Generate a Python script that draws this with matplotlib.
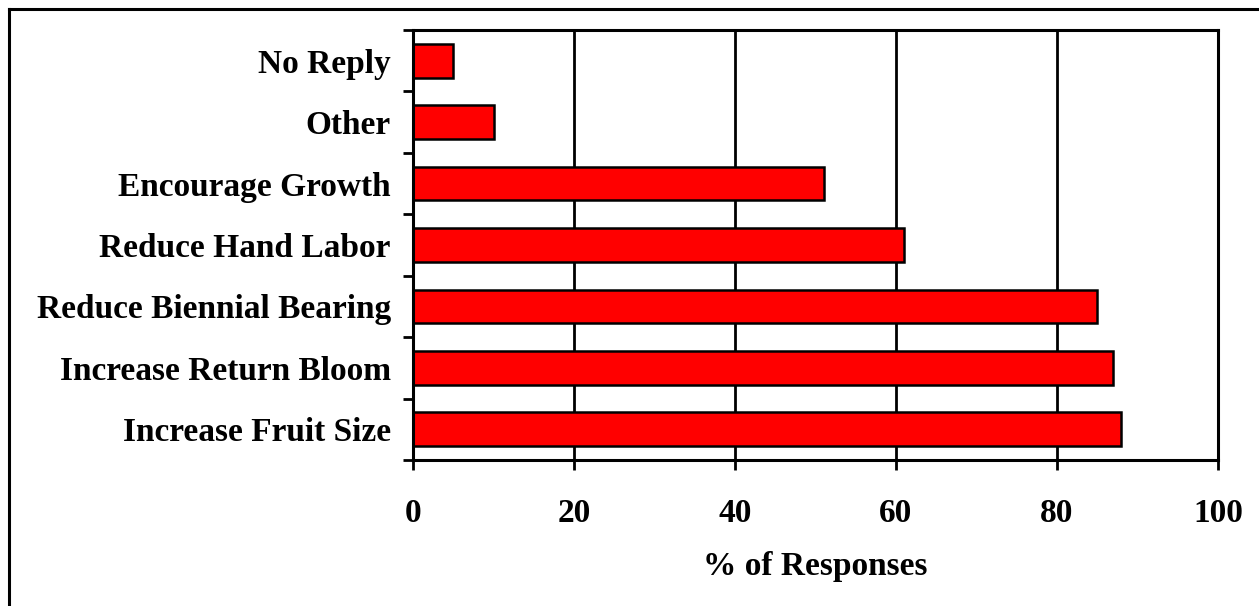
import matplotlib
matplotlib.use("Agg")
import matplotlib.pyplot as plt
from matplotlib.lines import Line2D
import numpy as np

categories = ["Increase Fruit Size", "Increase Return Bloom", "Reduce Biennial Bearing",
              "Reduce Hand Labor", "Encourage Growth", "Other", "No Reply"]
responses = [88, 87, 85, 61, 51, 10, 5]
x_ticks = [0, 20, 40, 60, 80, 100]

plt.rcParams["font.family"] = ["Liberation Serif", "DejaVu Serif"]
plt.rcParams["font.weight"] = "bold"

W, H = 1259, 606
fig = plt.figure(figsize=(W / 100, H / 100), dpi=100)
ax = fig.add_axes([413 / W, 1 - 460 / H, (1218 - 413) / W, (460 - 30) / H])

pos = np.arange(len(categories))
ax.barh(pos, responses, height=0.55, color="#ff0000", edgecolor="black",
        linewidth=1.8, zorder=3)

ax.set_xlim(0, 100)
ax.set_ylim(-0.5, len(categories) - 0.5)

ax.set_xticks(x_ticks)
ax.set_xticklabels([str(v) for v in x_ticks], fontsize=24, fontweight="bold")
ax.grid(axis="x", color="black", linewidth=2.0, zorder=1)

# category boundaries carry the tick marks, labels sit at bar centres
ax.set_yticks(np.arange(-0.5, len(categories), 1.0))
ax.set_yticklabels([])
ax.set_yticks(pos, minor=True)
ax.set_yticklabels(categories, minor=True, fontsize=24, fontweight="bold")
ax.tick_params(axis="y", which="minor", length=0, pad=16)
ax.tick_params(axis="y", which="major", length=7.2, width=2.0, direction="out")
ax.tick_params(axis="x", length=7.2, width=2.0, direction="out", pad=20)

for s in ax.spines.values():
    s.set_linewidth(2.2)
    s.set_zorder(4)

ax.set_xlabel("% of Responses", fontsize=24, fontweight="bold", labelpad=16)

# outer frame around the figure
fig.add_artist(Line2D([9 / W, 9 / W], [0, 1 - 9 / H], transform=fig.transFigure,
                      color="black", linewidth=2.2))
fig.add_artist(Line2D([9 / W, 1], [1 - 9 / H, 1 - 9 / H], transform=fig.transFigure,
                      color="black", linewidth=2.2))

fig.savefig("out.png", dpi=100)
